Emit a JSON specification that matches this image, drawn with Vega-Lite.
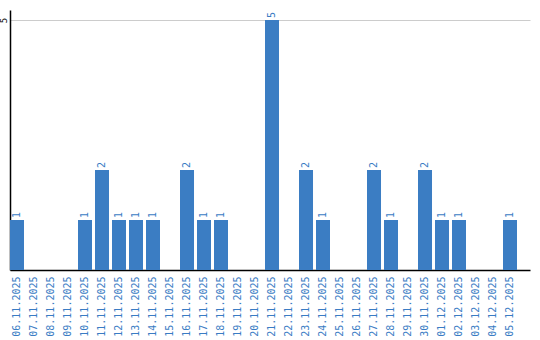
{
  "$schema": "https://vega.github.io/schema/vega-lite/v6.json",
  "width": 520,
  "height": 260,
  "autosize": {"type": "none"},
  "padding": {"left": 10, "top": 10, "right": 10, "bottom": 70},
  "background": "white",
  "config": {"view": {"stroke": null}},
  "data": {"values": [
    {"date": "06.11.2025", "count": 1},
    {"date": "07.11.2025", "count": 0},
    {"date": "08.11.2025", "count": 0},
    {"date": "09.11.2025", "count": 0},
    {"date": "10.11.2025", "count": 1},
    {"date": "11.11.2025", "count": 2},
    {"date": "12.11.2025", "count": 1},
    {"date": "13.11.2025", "count": 1},
    {"date": "14.11.2025", "count": 1},
    {"date": "15.11.2025", "count": 0},
    {"date": "16.11.2025", "count": 2},
    {"date": "17.11.2025", "count": 1},
    {"date": "18.11.2025", "count": 1},
    {"date": "19.11.2025", "count": 0},
    {"date": "20.11.2025", "count": 0},
    {"date": "21.11.2025", "count": 5},
    {"date": "22.11.2025", "count": 0},
    {"date": "23.11.2025", "count": 2},
    {"date": "24.11.2025", "count": 1},
    {"date": "25.11.2025", "count": 0},
    {"date": "26.11.2025", "count": 0},
    {"date": "27.11.2025", "count": 2},
    {"date": "28.11.2025", "count": 1},
    {"date": "29.11.2025", "count": 0},
    {"date": "30.11.2025", "count": 2},
    {"date": "01.12.2025", "count": 1},
    {"date": "02.12.2025", "count": 1},
    {"date": "03.12.2025", "count": 0},
    {"date": "04.12.2025", "count": 0},
    {"date": "05.12.2025", "count": 1}
  ]},
  "encoding": {
    "x": {
      "field": "date", "type": "ordinal", "sort": null,
      "scale": {"paddingInner": 0.176, "paddingOuter": 0.382, "align": 0},
      "axis": {
        "title": null, "labelAngle": -90, "labelAlign": "right", "labelBaseline": "middle",
        "labelFont": "DejaVu Sans Mono", "labelFontSize": 10, "labelColor": "#3a7cc4",
        "ticks": false, "labelPadding": 6, "domainColor": "#000000", "domainWidth": 1.5, "grid": false
      }
    },
    "y": {
      "field": "count", "type": "quantitative",
      "scale": {"domain": [0, 5.2], "nice": false, "zero": true},
      "axis": {
        "title": null, "values": [5], "labelAngle": -90, "labelAlign": "center", "labelBaseline": "bottom",
        "labelFont": "DejaVu Sans Mono", "labelFontSize": 9, "labelColor": "#000000",
        "ticks": false, "labelPadding": 2, "domainColor": "#000000", "domainWidth": 1.5,
        "grid": true, "gridColor": "#cccccc", "gridWidth": 1
      }
    }
  },
  "layer": [
    {"mark": {"type": "bar", "color": "#3b7dc3"}},
    {
      "transform": [{"filter": "datum.count > 0"}],
      "mark": {"type": "text", "angle": -90, "align": "left", "baseline": "middle", "dx": 2,
        "font": "DejaVu Sans Mono", "fontSize": 10, "color": "#3a7cc4"},
      "encoding": {"text": {"field": "count", "type": "quantitative"}}
    }
  ]
}
